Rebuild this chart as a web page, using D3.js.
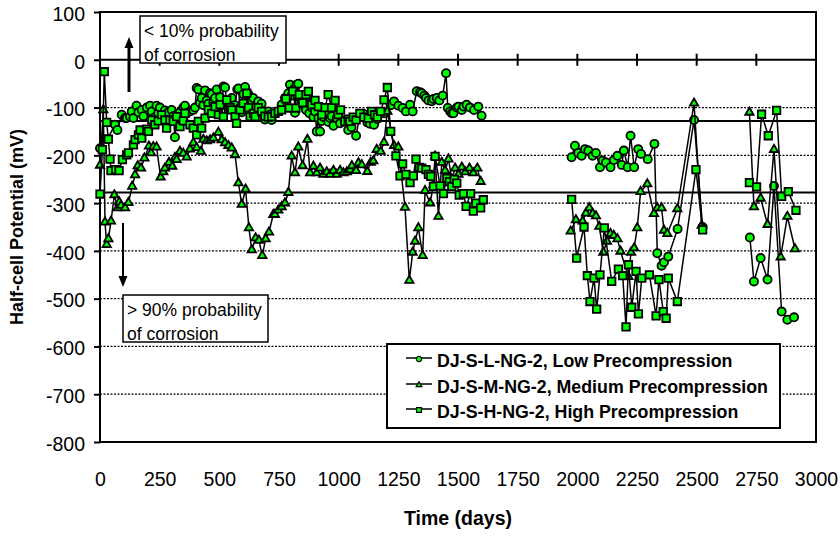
<!DOCTYPE html>
<html>
<head>
<meta charset="utf-8">
<script src="https://cdn.jsdelivr.net/npm/d3@7"></script>
<style>
body { margin: 0; background: #fff; }
text { font-family: Arial, "Liberation Sans", sans-serif; fill: #000; }
</style>
</head>
<body>
<div id="chart"></div>
<script>
// [day, mV] readings, null = gap in measurements
const lowData = [
  [0,-185],[31,-166],[63,-136],[73,-147],[91,-115],[105,-122],[112,-122],[126,-119],[133,-108],[140,-122],
  [153,-96],[161,-110],[175,-105],[182,-118],[196,-100],[210,-96],[217,-108],[230,-120],[237,-96],[244,-112],
  [251,-100],[265,-115],[272,-106],[286,-110],[300,-105],[307,-118],[314,-162],[321,-115],[335,-110],[349,-100],
  [356,-96],[363,-112],[377,-108],[391,-105],[398,-100],[405,-59],[412,-62],[419,-90],[426,-80],[433,-95],
  [440,-64],[447,-85],[454,-92],[461,-70],[468,-72],[475,-90],[482,-80],[489,-62],[496,-100],[503,-78],
  [510,-95],[517,-56],[524,-58],[531,-88],[538,-100],[545,-92],[552,-80],[559,-102],[566,-95],[575,-62],
  [580,-60],[587,-100],[594,-110],[601,-72],[608,-57],[615,-90],[622,-72],[629,-98],[636,-85],[642,-80],
  [650,-100],[656,-112],[663,-87],[670,-108],[677,-92],[684,-112],[691,-125],[698,-118],[705,-108],[712,-115],
  [719,-126],[740,-110],[761,-94],[775,-80],[789,-70],[796,-52],[803,-75],[813,-61],[817,-111],[824,-52],
  [831,-50],[838,-80],[849,-78],[856,-95],[863,-105],[870,-90],[877,-112],[887,-100],[894,-120],[901,-108],
  [908,-150],[915,-122],[922,-150],[929,-128],[936,-120],[943,-104],[950,-115],[957,-130],[964,-122],[971,-118],
  [978,-138],[992,-122],[1006,-133],[1026,-129],[1040,-147],[1054,-141],[1073,-159],[1087,-120],[1103,-113],[1120,-131],
  [1131,-134],[1148,-136],[1162,-124],[1176,-110],[1190,-112],[1218,-95],[1232,-87],[1250,-96],[1268,-101],[1282,-108],
  [1299,-94],[1310,-108],[1327,-66],[1341,-68],[1348,-70],[1359,-75],[1366,-80],[1376,-85],[1390,-87],[1397,-82],
  [1411,-80],[1422,-85],[1436,-75],[1450,-28],[1457,-101],[1467,-108],[1474,-112],[1481,-112],[1495,-100],[1502,-98],
  [1516,-105],[1523,-98],[1536,-94],[1550,-100],[1567,-105],[1585,-98],[1599,-117],
  null,
  [1976,-204],[1990,-180],[2004,-195],[2018,-201],[2032,-187],[2046,-190],[2064,-201],[2078,-195],[2095,-225],[2106,-211],
  [2120,-215],[2139,-225],[2153,-210],[2168,-201],[2186,-220],[2195,-190],[2211,-225],[2223,-159],[2238,-225],[2255,-187],
  [2267,-197],[2295,-208],[2323,-176],[2335,-405],[2353,-431],[2363,-424],[2381,-412],[2420,-354],[2489,-126],[2525,-350],
  null,
  [2723,-372],[2740,-464],[2768,-415],[2797,-460],[2824,-264],[2856,-527],[2880,-544],[2908,-539]
];

const mediumData = [
  [0,-221],[14,-105],[21,-340],[28,-387],[35,-375],[46,-338],[60,-283],[74,-310],[81,-298],[88,-305],
  [105,-310],[119,-299],[135,-265],[147,-241],[158,-222],[172,-227],[186,-206],[205,-181],[214,-195],[223,-182],
  [237,-183],[254,-246],[265,-235],[272,-227],[289,-215],[303,-223],[314,-205],[321,-209],[335,-192],[349,-196],
  [363,-204],[377,-187],[391,-174],[405,-184],[423,-192],[433,-167],[447,-170],[461,-168],[475,-164],[496,-152],
  [510,-168],[524,-174],[538,-180],[552,-185],[566,-199],[580,-258],[594,-303],[610,-271],[624,-352],[636,-398],
  [652,-373],[666,-378],[680,-410],[694,-375],[708,-361],[726,-324],[733,-324],[747,-315],[761,-308],[775,-300],
  [789,-278],[803,-202],[817,-237],[831,-183],[849,-222],[869,-167],[880,-237],[894,-223],[908,-237],[922,-227],
  [936,-240],[950,-235],[964,-240],[978,-232],[992,-240],[1006,-232],[1020,-237],[1034,-235],[1048,-230],[1055,-222],
  [1073,-232],[1083,-216],[1097,-220],[1120,-234],[1134,-215],[1145,-212],[1159,-188],[1176,-192],[1190,-173],[1204,-108],
  [1232,-180],[1250,-183],[1278,-309],[1296,-462],[1310,-403],[1320,-380],[1334,-352],[1352,-410],[1362,-274],[1383,-300],
  [1397,-262],[1404,-202],[1418,-328],[1432,-215],[1446,-232],[1460,-208],[1474,-250],[1488,-227],[1502,-240],[1516,-225],
  [1530,-235],[1548,-227],[1564,-237],[1581,-227],[1595,-255],
  null,
  [1972,-359],[1994,-335],[2022,-338],[2036,-321],[2050,-310],[2064,-322],[2078,-327],[2092,-349],[2109,-403],[2124,-380],
  [2139,-364],[2153,-368],[2168,-375],[2181,-401],[2214,-454],[2225,-403],[2238,-394],[2251,-352],[2265,-276],[2293,-260],
  [2321,-322],[2335,-310],[2353,-310],[2363,-357],[2377,-364],[2419,-312],[2489,-91],[2521,-347],
  null,
  [2721,-110],[2740,-308],[2768,-290],[2797,-345],[2824,-188],[2852,-413],[2880,-328],[2912,-396]
];

const highData = [
  [0,-281],[10,-188],[18,-25],[28,-131],[35,-166],[42,-208],[46,-232],[66,-230],[80,-232],[94,-209],
  [112,-199],[119,-195],[140,-178],[147,-167],[161,-157],[168,-147],[175,-164],[196,-145],[203,-150],[217,-126],
  [230,-136],[244,-128],[258,-115],[272,-126],[279,-143],[293,-126],[307,-129],[321,-119],[335,-140],[349,-128],
  [356,-112],[377,-136],[391,-143],[405,-157],[412,-129],[426,-143],[440,-122],[454,-105],[468,-112],[482,-98],
  [496,-115],[503,-94],[517,-119],[531,-84],[545,-100],[552,-105],[566,-119],[572,-133],[587,-105],[600,-91],
  [615,-70],[622,-100],[629,-119],[643,-112],[650,-119],[663,-100],[677,-108],[691,-118],[705,-120],[719,-119],
  [733,-112],[747,-108],[761,-105],[779,-82],[793,-101],[807,-66],[821,-101],[835,-73],[849,-90],[863,-73],
  [873,-66],[887,-94],[901,-85],[915,-98],[929,-115],[943,-100],[956,-73],[970,-100],[985,-85],[998,-115],
  [1008,-105],[1026,-129],[1040,-124],[1047,-129],[1061,-120],[1073,-126],[1089,-112],[1106,-120],[1124,-122],[1138,-108],
  [1150,-115],[1162,-120],[1176,-108],[1190,-84],[1204,-58],[1218,-150],[1240,-201],[1257,-243],[1268,-218],[1282,-240],
  [1299,-257],[1313,-243],[1324,-208],[1338,-225],[1348,-227],[1366,-230],[1376,-240],[1386,-244],[1397,-265],[1404,-202],
  [1425,-264],[1439,-280],[1453,-248],[1464,-255],[1474,-265],[1484,-250],[1495,-258],[1505,-283],[1523,-280],[1534,-307],
  [1553,-280],[1564,-317],[1575,-300],[1595,-310],[1606,-293],
  null,
  [1976,-292],[1997,-415],[2028,-350],[2042,-452],[2053,-506],[2070,-457],[2081,-522],[2095,-450],[2113,-352],[2144,-464],
  [2172,-438],[2190,-452],[2204,-559],[2214,-429],[2228,-518],[2246,-443],[2256,-532],[2270,-457],[2302,-450],[2330,-536],
  [2342,-460],[2360,-527],[2372,-541],[2381,-457],[2419,-506],[2497,-230],[2525,-356],
  null,
  [2721,-257],[2751,-266],[2772,-114],[2800,-159],[2835,-106],[2856,-286],[2884,-276],[2916,-315]
];

const seriesNames = [
  "DJ-S-L-NG-2, Low Precompression",
  "DJ-S-M-NG-2, Medium Precompression",
  "DJ-S-H-NG-2, High Precompression"
];
const xTicks = [0, 250, 500, 750, 1000, 1250, 1500, 1750, 2000, 2250, 2500, 2750, 3000];
const yTicks = [100, 0, -100, -200, -300, -400, -500, -600, -700, -800];
const dottedLevels = [-100, -200, -300, -400, -500, -600, -700];
const thresholdLevels = [-128, -278];
const noteTop = ["< 10% probability", "of corrosion"];
const noteBottom = ["> 90% probability", "of corrosion"];

const width = 840, height = 536;
const plot = {left: 100, right: 816, top: 12, bottom: 442};

const svg = d3.select("#chart").append("svg")
  .attr("width", width)
  .attr("height", height);

const x = d3.scaleLinear().domain([0, 3000]).range([plot.left, plot.right]);
const y = d3.scaleLinear().domain([-800, 100]).range([plot.bottom, plot.top]);

// dotted gridlines
svg.append("g").selectAll("line")
  .data(dottedLevels).enter().append("line")
  .attr("x1", plot.left).attr("x2", plot.right)
  .attr("y1", d => y(d)).attr("y2", d => y(d))
  .attr("stroke", "#000").attr("stroke-width", 1.3)
  .attr("stroke-dasharray", "2,1.5");

// solid threshold lines
svg.append("g").selectAll("line")
  .data(thresholdLevels).enter().append("line")
  .attr("x1", plot.left).attr("x2", plot.right)
  .attr("y1", d => y(d)).attr("y2", d => y(d))
  .attr("stroke", "#000").attr("stroke-width", 2);

// zero line with crossing ticks
svg.append("line")
  .attr("x1", plot.left).attr("x2", plot.right)
  .attr("y1", y(0)).attr("y2", y(0))
  .attr("stroke", "#000").attr("stroke-width", 2);
svg.append("g").selectAll("line")
  .data(xTicks.slice(1, -1)).enter().append("line")
  .attr("x1", d => x(d)).attr("x2", d => x(d))
  .attr("y1", y(0) - 6).attr("y2", y(0) + 6)
  .attr("stroke", "#000").attr("stroke-width", 2);

// frame
svg.append("rect")
  .attr("x", plot.left).attr("y", plot.top)
  .attr("width", plot.right - plot.left).attr("height", plot.bottom - plot.top)
  .attr("fill", "none").attr("stroke", "#000").attr("stroke-width", 2);

// y axis
const yAxis = svg.append("g")
  .attr("transform", "translate(" + plot.left + ",0)")
  .call(d3.axisLeft(y).tickValues(yTicks).tickSize(6).tickPadding(9).tickFormat(d => String(d)));
yAxis.select(".domain").remove();
yAxis.selectAll("line").attr("stroke", "#000").attr("stroke-width", 2);
yAxis.selectAll("text")
  .attr("font-size", "19.5px")
  .attr("font-family", "Arial, 'Liberation Sans', sans-serif")
  .attr("transform", "translate(0,2)");

// x axis labels along the bottom
const xAxis = svg.append("g")
  .attr("transform", "translate(0," + plot.bottom + ")")
  .call(d3.axisBottom(x).tickValues(xTicks).tickSize(0).tickPadding(30).tickFormat(d => String(d)));
xAxis.select(".domain").remove();
xAxis.selectAll("text")
  .attr("font-size", "19.5px")
  .attr("font-family", "Arial, 'Liberation Sans', sans-serif");

// axis titles
svg.append("text")
  .attr("x", (plot.left + plot.right) / 2).attr("y", 525)
  .attr("text-anchor", "middle")
  .attr("font-size", "19.5px").attr("font-weight", "bold")
  .text("Time (days)");
svg.append("text")
  .attr("transform", "translate(23," + ((plot.top + plot.bottom) / 2) + ") rotate(-90)")
  .attr("text-anchor", "middle")
  .attr("font-size", "18px").attr("font-weight", "bold")
  .text("Half-cell Potential (mV)");

// series
const line = d3.line()
  .defined(d => d != null)
  .x(d => x(d[0]))
  .y(d => y(d[1]));

const green = "#00ff00";
const seriesList = [
  {data: lowData, symbol: d3.symbolCircle, size: 52},
  {data: mediumData, symbol: d3.symbolTriangle, size: 30},
  {data: highData, symbol: d3.symbolSquare, size: 56}
];

seriesList.forEach(s => {
  const g = svg.append("g");
  g.append("path")
    .attr("d", line(s.data))
    .attr("fill", "none")
    .attr("stroke", "#000")
    .attr("stroke-width", 1.5);
  g.selectAll("path.m")
    .data(s.data.filter(d => d != null)).enter()
    .append("path")
    .attr("class", "m")
    .attr("transform", d => "translate(" + x(d[0]) + "," + y(d[1]) + ")")
    .attr("d", d3.symbol().type(s.symbol).size(s.size))
    .attr("fill", green)
    .attr("stroke", "#000")
    .attr("stroke-width", 1.8);
});

// annotation boxes
function note(lines, bx, by, bw, bh, baseline) {
  svg.append("rect")
    .attr("x", bx).attr("y", by).attr("width", bw).attr("height", bh)
    .attr("fill", "#fff").attr("stroke", "#000").attr("stroke-width", 1.5);
  svg.append("g").selectAll("text")
    .data(lines).enter().append("text")
    .attr("x", bx + 4)
    .attr("y", (d, i) => baseline + i * 24)
    .attr("font-size", "17.5px")
    .text(d => d);
}
note(noteTop, 140, 16, 146, 47, 37);
note(noteBottom, 123, 295, 145, 47, 316);

// arrows
svg.append("line")
  .attr("x1", 129).attr("x2", 129).attr("y1", 92).attr("y2", 46)
  .attr("stroke", "#000").attr("stroke-width", 3);
svg.append("path")
  .attr("d", "M129,37 L124.5,48 L133.5,48 Z").attr("fill", "#000");
svg.append("line")
  .attr("x1", 123).attr("x2", 123).attr("y1", 223).attr("y2", 278)
  .attr("stroke", "#000").attr("stroke-width", 2);
svg.append("path")
  .attr("d", "M123,287 L118.5,276 L127.5,276 Z").attr("fill", "#000");

// legend
const legend = svg.append("g");
legend.append("rect")
  .attr("x", 387).attr("y", 344).attr("width", 393).attr("height", 84)
  .attr("fill", "#fff").attr("stroke", "#000").attr("stroke-width", 2);
const legendSizes = [22, 14, 24];
const legendRows = legend.selectAll("g.row")
  .data(seriesList).enter().append("g")
  .attr("class", "row")
  .attr("transform", (d, i) => "translate(0," + [362, 388, 413][i] + ")");
legendRows.append("line")
  .attr("x1", 406).attr("x2", 432).attr("y1", -4).attr("y2", -4)
  .attr("stroke", "#000").attr("stroke-width", 1.5);
legendRows.append("path")
  .attr("transform", "translate(419,-3)")
  .attr("d", (d, i) => d3.symbol().type(d.symbol).size(legendSizes[i])())
  .attr("fill", green).attr("stroke", "#000").attr("stroke-width", 1.2);
legendRows.append("text")
  .attr("x", 437).attr("y", 5)
  .attr("font-size", "17.8px").attr("font-weight", "bold")
  .text((d, i) => seriesNames[i]);
</script>
</body>
</html>
